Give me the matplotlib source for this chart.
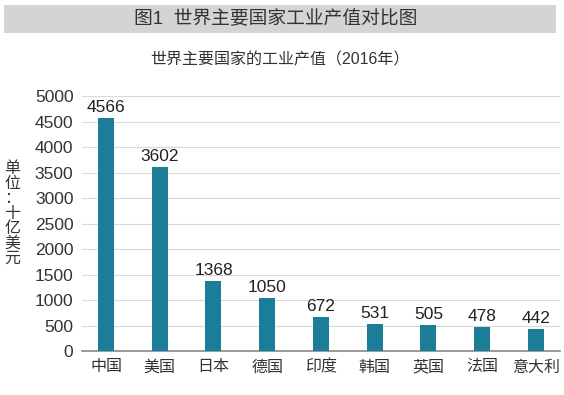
import numpy as np
import matplotlib
matplotlib.use('Agg')
import matplotlib.pyplot as plt
from matplotlib.patches import Rectangle

plt.rcParams['font.family'] = ['Liberation Sans', 'Noto Sans CJK SC', 'DejaVu Sans']

countries = ['中国', '美国', '日本', '德国', '印度', '韩国', '英国', '法国', '意大利']
output = [4566, 3602, 1368, 1050, 672, 531, 505, 478, 442]
yticks = [0, 500, 1000, 1500, 2000, 2500, 3000, 3500, 4000, 4500, 5000]

fig = plt.figure(figsize=(5.64, 3.95), dpi=100)
ax = fig.add_axes([0.145, 0.111, 0.848, 0.646])

x = np.arange(len(countries))
ax.bar(x, output, width=0.3, color='#1c7d98', zorder=3)
for xi, v in zip(x, output):
    ax.text(xi, v + 60, str(v), ha='center', va='bottom', fontsize=12.5, color='#222222')

ax.set_ylim(0, 5000)
ax.set_xlim(-0.45, len(countries) - 0.55)
ax.set_yticks(yticks)
ax.set_yticklabels([str(t) for t in yticks], fontsize=12.5, color='#333333')
ax.set_xticks(x)
ax.set_xticklabels(countries, fontsize=11.5, color='#333333')
ax.tick_params(axis='both', length=0, pad=6)
ax.grid(axis='y', color='#d9d9d9', linewidth=0.8, zorder=0)
for s in ['top', 'right', 'left']:
    ax.spines[s].set_visible(False)
ax.spines['bottom'].set_color('#888888')
ax.spines['bottom'].set_linewidth(1.2)

# title band
fig.patches.append(Rectangle((0.007, 0.916), 0.979, 0.071, transform=fig.transFigure,
                             facecolor='#d4d4d4', edgecolor='none'))
fig.text(0.489, 0.951, '图1  世界主要国家工业产值对比图', ha='center', va='center',
         fontsize=13.5, color='#333333')
fig.text(0.496, 0.848, '世界主要国家的工业产值（2016年）', ha='center', va='center',
         fontsize=11.5, color='#333333')
fig.text(0.022, 0.46, '单\n位\n：\n十\n亿\n美\n元', ha='center', va='center',
         fontsize=11.5, color='#333333', linespacing=1.0)

fig.savefig('out.png', dpi=100)
